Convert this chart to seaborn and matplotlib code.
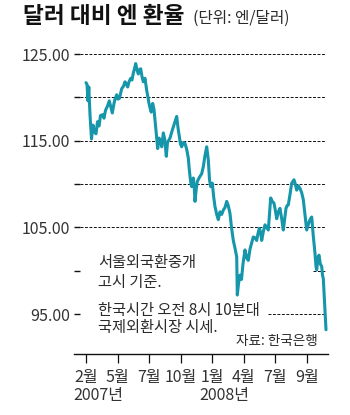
import numpy as np
import pandas as pd
import matplotlib
matplotlib.use("Agg")
import matplotlib.pyplot as plt
import seaborn as sns

# ---- data ----
# x position along the (evenly spaced) month axis, in axis units; ticks every TICK_STEP
x_pos = [0, 1.0, 2.0, 2.8, 4, 5.5, 7, 8.5, 10, 11.5, 13, 14.5, 16.5, 18, 19.5, 21.5, 23.3, 25, 26.3, 28,
         29, 30.7, 32, 33.5, 35.7, 37.5, 39, 40.5, 41.7, 43, 44.7, 46, 47.3, 48.5, 49.7, 51, 52.3, 53.5, 54.7, 56,
         57.3, 59, 60.7, 62, 63, 64, 65.2, 66.7, 68, 69, 70.3, 71.7, 73, 74.2, 75.7, 76.5, 77.3, 78.7, 80.3, 81.5,
         82.5, 84, 85.7, 87.3, 89, 90.7, 92, 93.3, 94.5, 95.7, 97.3, 99, 100.7, 102.3, 103.2, 104, 105, 105.7, 107.3, 108.3,
         109, 110.3, 111.3, 113.5, 115.7, 117.3, 119, 120.7, 122.3, 123.5, 124.7, 126.3, 127.7, 129, 130.7, 132.3, 134, 135.7, 137.3, 139,
         140.7, 142.3, 144, 145.5, 147.3, 149, 150.7, 151.3, 152.5, 154, 155.5, 157, 159, 160.7, 162.3, 164, 165.7, 167.3, 169, 170.7,
         172, 173.3, 174.5, 175.7, 177.3, 179, 180.7, 182.3, 183.5, 184.7, 186.3, 188, 189.3, 190.7, 192.3, 194, 195.7, 197.3, 198.7, 200,
         201, 202.3, 204, 205.7, 208, 209.3, 210.7, 212.3, 214, 215.7, 217.3, 219, 220.7, 222, 223.3, 224.5, 225.7, 227.3, 229, 230,
         230.7, 232, 233, 234.3, 235.7, 236.5, 237.3, 238.5, 240]
rate = [121.7, 121.5, 119.6, 121.2, 118.0, 115.2, 116.8, 116.0, 115.8, 117.2, 116.7, 117.9, 118.0, 117.6, 118.5, 119.0, 119.6, 118.8, 118.2, 119.3,
        119.8, 120.3, 119.8, 119.9, 121.0, 121.3, 121.8, 121.5, 121.2, 121.8, 122.2, 122.0, 122.8, 123.3, 123.9, 123.2, 122.7, 123.2, 123.3, 122.4,
        121.8, 122.2, 120.8, 120.0, 119.3, 118.8, 118.3, 119.3, 118.6, 117.4, 115.8, 114.1, 115.3, 115.1, 114.3, 115.0, 115.9, 115.2, 113.2, 114.8,
        115.0, 115.3, 116.0, 116.6, 117.2, 117.8, 116.5, 115.5, 114.6, 114.3, 114.8, 114.7, 114.0, 113.0, 111.8, 110.9, 110.0, 109.7, 110.7, 109.5,
        108.0, 109.5, 110.3, 110.8, 111.2, 112.0, 113.3, 114.3, 112.8, 110.5, 109.7, 110.1, 108.5, 107.4, 106.5, 105.9, 106.8, 106.5, 107.0, 107.3,
        108.0, 107.5, 106.6, 105.0, 103.5, 102.6, 101.6, 97.2, 98.5, 99.5, 99.0, 100.8, 102.4, 101.5, 101.2, 102.5, 103.2, 103.9, 103.8, 103.5,
        104.3, 104.9, 104.5, 103.5, 104.5, 105.3, 105.0, 104.7, 106.5, 108.4, 108.0, 107.8, 107.0, 106.0, 106.8, 107.2, 106.0, 104.7, 106.0, 107.2,
        107.5, 107.6, 108.8, 110.1, 110.5, 110.0, 109.3, 109.8, 109.5, 109.0, 108.2, 106.5, 104.7, 105.2, 105.7, 106.0, 106.2, 104.0, 102.0, 100.5,
        100.1, 101.5, 101.8, 100.8, 100.5, 99.5, 99.1, 96.5, 93.2]

month_labels = ["2월", "5월", "7월", "10월", "1월", "4월", "7월", "9월"]
year_labels = {0: "2007년", 4: "2008년"}
y_grid = [125, 120, 115, 110, 105, 100, 95]
y_labels = ["125.00", "", "115.00", "", "105.00", "", "95.00"]

title = "달러 대비 엔 환율"
subtitle = "(단위: 엔/달러)"
notes = [("서울외국환중개", 262), ("고시 기준.", 283),
         ("한국시간 오전 8시 10분대", 310), ("국제외환시장 시세.", 327)]
source = "자료: 한국은행"

# ---- style ----
TICK_STEP = 31.57
LINE_COLOR = "#1596aa"
TXT = "#2a2a2a"
W, H = 350, 415

sns.set_style("white")
plt.rcParams["font.family"] = ["Liberation Sans Narrow", "Noto Sans CJK KR", "DejaVu Sans"]

fig = plt.figure(figsize=(W / 100, H / 100), dpi=100)
ax = fig.add_axes([74 / W, 1 - 354 / H, 254 / W, (354 - 49.7) / H])

df = pd.DataFrame({"x": x_pos, "rate": rate})
sns.lineplot(data=df, x="x", y="rate", ax=ax, color=LINE_COLOR, linewidth=2.2,
             estimator=None, sort=False, zorder=5)

ax.set_xlim(-12, 242)
ax.set_ylim(90.4, 125.5)

# dashed grid lines (partly hidden behind notes)
grid_span = {100: [(0.941, 0.988)], 95: [(0.764, 0.988)]}
for v in y_grid:
    for a, b in grid_span.get(v, [(0.024, 0.988)]):
        ax.axhline(v, a, b, color="#111111", lw=0.7, ls=(0, (3, 1.6)), zorder=1)

ax.set_yticks(y_grid)
ax.set_yticklabels(y_labels)
ax.tick_params(axis="y", direction="in", length=4.6, width=1.0, color="#111111",
               pad=3, labelsize=11.5, labelcolor="#333333", left=True)

ticks = np.arange(len(month_labels)) * TICK_STEP
ax.set_xticks(ticks)
ax.set_xticklabels(month_labels)
ax.tick_params(axis="x", direction="out", length=6.5, width=0.9, color="#111111",
               pad=4, labelsize=11.5, labelcolor="#333333", bottom=True)
for i, lab in year_labels.items():
    ax.annotate(lab, xy=(ticks[i], 0), xycoords=ax.get_xaxis_transform(),
                xytext=(-13, -41), textcoords="offset pixels", ha="left", va="center",
                fontsize=11.5, color="#333333")

for s in ["top", "right", "left"]:
    ax.spines[s].set_visible(False)
ax.spines["bottom"].set_color("#111111")
ax.spines["bottom"].set_linewidth(1.0)
ax.set_xlabel("")
ax.set_ylabel("")

# titles and notes
fig.text(23 / W, 1 - 23 / H, title, fontsize=16.3, fontweight="bold",
         family=["Noto Sans CJK KR"], color="#111111", va="baseline")
fig.text(193 / W, 1 - 23 / H, subtitle, fontsize=11.3, family=["Noto Sans CJK KR"],
         color=TXT, va="baseline")
for txt, yc in notes:
    fig.text(98 / W, 1 - yc / H, txt, fontsize=11, family=["Noto Sans CJK KR", "DejaVu Sans"],
             color=TXT, va="center")
fig.text(236 / W, 1 - 341 / H, source, fontsize=9.8, family=["Noto Sans CJK KR"],
         color=TXT, va="center")

fig.savefig("out.png", dpi=100)
